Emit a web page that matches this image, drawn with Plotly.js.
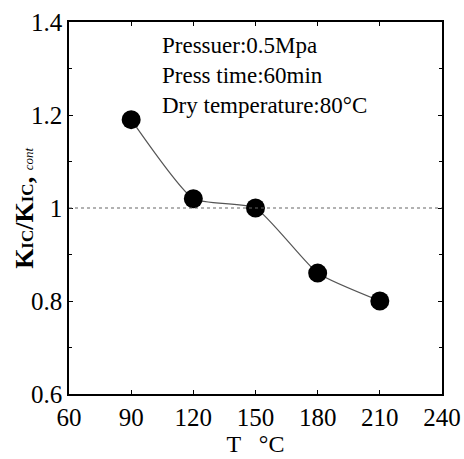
<!DOCTYPE html>
<html>
<head>
<meta charset="utf-8">
<script src="https://cdn.plot.ly/plotly-3.0.1.min.js"></script>
<style>html,body{margin:0;padding:0;background:#fff;}#chart{width:464px;height:459px;}</style>
</head>
<body>
<div id="chart"></div>
<script>
const temperature = [90, 120, 150, 180, 210];
const kicRatio = [1.19, 1.02, 1.0, 0.86, 0.80];
const xTicks = [60, 90, 120, 150, 180, 210, 240];
const yTicks = [0.6, 0.8, 1, 1.2, 1.4];
const referenceLevel = 1;
const conditions = ["Pressuer:0.5Mpa", "Press time:60min", "Dry temperature:80\u00b0C"];
const yTitle = "<b>K<span style='font-size:17px'>IC</span>/K<span style='font-size:17px'>IC</span>,</b> <i><span style='font-size:13px'>cont</span></i>";
const xTitle = "T &#160;&#160;\u00b0C";

const serifFamily = "Liberation Serif, serif";

const traces = [{
  x: temperature,
  y: kicRatio,
  type: "scatter",
  mode: "lines+markers",
  line: {shape: "spline", smoothing: 0.5, color: "#555", width: 1.2},
  marker: {size: 19, color: "#000"},
  showlegend: false,
  hoverinfo: "skip"
}];

const layout = {
  width: 464, height: 459,
  margin: {l: 69, r: 22, t: 22, b: 65},
  paper_bgcolor: "#fff", plot_bgcolor: "#fff",
  font: {family: serifFamily, color: "#000", size: 24},
  xaxis: {
    range: [60, 240], tickvals: xTicks, ticktext: xTicks.map(String),
    ticks: "inside", ticklen: 4, tickcolor: "#000",
    showline: true, linecolor: "#000", linewidth: 1.5, mirror: "ticks",
    showgrid: false, zeroline: false,
    tickfont: {size: 25, family: serifFamily, color: "#000"},
    title: {text: xTitle, font: {size: 24, family: serifFamily, color: "#000"}, standoff: 2}
  },
  yaxis: {
    range: [0.6, 1.4], tickvals: yTicks, ticktext: yTicks.map(String),
    ticks: "inside", ticklen: 4, tickcolor: "#000",
    minor: {dtick: 0.1, ticks: "inside", ticklen: 3, tickcolor: "#000"},
    showline: true, linecolor: "#000", linewidth: 1.5, mirror: "ticks",
    showgrid: false, zeroline: false,
    tickfont: {size: 25, family: serifFamily, color: "#000"}
  },
  shapes: [{
    type: "line", xref: "paper", x0: 0, x1: 1, yref: "y", y0: referenceLevel, y1: referenceLevel,
    line: {color: "#666", width: 1.2, dash: "dot"}
  }],
  annotations: [{
    xref: "paper", yref: "paper", x: 0.245, y: 0.975, xanchor: "left", yanchor: "top",
    align: "left", showarrow: false,
    text: conditions.join("<br>"),
    font: {size: 23, family: serifFamily, color: "#000"}
  }, {
    xref: "paper", yref: "paper", x: -0.121, y: 0.5, xanchor: "center", yanchor: "middle",
    textangle: -90, showarrow: false,
    text: yTitle,
    font: {size: 26, family: serifFamily, color: "#000"}
  }]
};

Plotly.newPlot("chart", traces, layout, {displayModeBar: false});
</script>
</body>
</html>
